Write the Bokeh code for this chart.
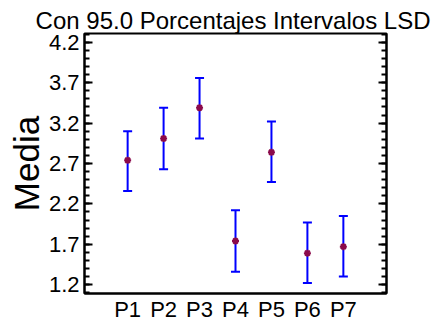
from bokeh.plotting import figure
from bokeh.models import (FixedTicker, LinearAxis, Range1d, Whisker, ColumnDataSource,
                          TeeHead)
from bokeh.embed import file_html
from bokeh.resources import INLINE

groups = ["P1", "P2", "P3", "P4", "P5", "P6", "P7"]
means = [2.74, 3.01, 3.39, 1.74, 2.84, 1.59, 1.67]
lower = [2.36, 2.63, 3.01, 1.36, 2.47, 1.22, 1.30]
upper = [3.10, 3.39, 3.76, 2.12, 3.22, 1.97, 2.05]
y_ticks = [1.2, 1.7, 2.2, 2.7, 3.2, 3.7, 4.2]
title_text = "Con 95.0 Porcentajes Intervalos LSD"
y_label = "Media"

xs = list(range(1, len(groups) + 1))
src = ColumnDataSource(dict(x=xs, m=means, lo=lower, hi=upper))

FONT = "Liberation Sans"

p = figure(width=437, height=324, output_backend="svg", toolbar_location=None,
           x_range=Range1d(-0.2, 8.2), y_range=Range1d(1.09, 4.31),
           min_border_left=84, min_border_right=51, min_border_top=33, min_border_bottom=30,
           title=title_text)
p.title.text_font = FONT
p.title.text_font_size = "24px"
p.title.text_font_style = "normal"
p.title.align = "right"
p.title.offset = -44
p.title.text_color = "black"
p.title.standoff = 0
p.grid.visible = False
p.background_fill_color = "white"
p.border_fill_color = "white"
p.outline_line_color = "black"
p.outline_line_width = 2

minor = [round(1.1 + 0.1 * i, 1) for i in range(33)]

xa = p.xaxis[0]
xa.ticker = FixedTicker(ticks=xs)
xa.major_label_overrides = {i: g for i, g in zip(xs, groups)}
xa.major_tick_in = 0
xa.major_tick_out = 0
xa.minor_tick_in = 0
xa.minor_tick_out = 0
xa.axis_line_width = 2
xa.major_label_text_font = FONT
xa.major_label_text_font_size = "22px"
xa.major_label_text_color = "black"
xa.major_label_standoff = 3

def style_y(ax, labels=True):
    ax.ticker = FixedTicker(ticks=y_ticks, minor_ticks=minor)
    ax.major_tick_in = 8
    ax.major_tick_out = 0
    ax.minor_tick_in = 5
    ax.minor_tick_out = 0
    ax.major_tick_line_width = 2
    ax.minor_tick_line_width = 2
    ax.axis_line_width = 2
    ax.major_label_text_font = FONT
    ax.major_label_text_font_size = "22px"
    ax.major_label_text_color = "black"
    ax.major_label_standoff = 5
    if not labels:
        ax.major_label_text_alpha = 0
        ax.major_label_text_font_size = "0px"

ya = p.yaxis[0]
style_y(ya)
ya.axis_label = y_label
ya.axis_label_text_font = FONT
ya.axis_label_text_font_size = "35px"
ya.axis_label_text_font_style = "normal"
ya.axis_label_text_color = "black"
ya.axis_label_standoff = 0

ra = LinearAxis()
style_y(ra, labels=False)
p.add_layout(ra, "right")

w = Whisker(source=src, base="x", upper="hi", lower="lo", line_color="#0000FF", line_width=2,
            upper_head=TeeHead(size=9, line_color="#0000FF", line_width=2),
            lower_head=TeeHead(size=9, line_color="#0000FF", line_width=2))
p.add_layout(w)

p.scatter("x", "m", source=src, marker="asterisk", size=7, line_color="#8B0A4A", line_width=2)

open("out.html", "w").write(file_html(p, INLINE))
